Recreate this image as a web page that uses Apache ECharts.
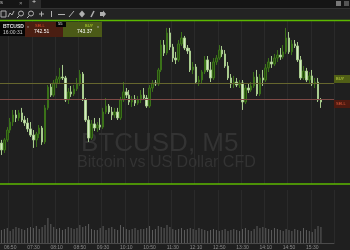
<!DOCTYPE html>
<html><head><meta charset="utf-8">
<script src="https://cdn.jsdelivr.net/npm/echarts@6/dist/echarts.min.js"></script>
<style>html,body{margin:0;padding:0;background:#1f1f1f;}#c{width:350px;height:250px;}</style>
</head><body><div id="c"></div>
<script>
const categories = ['06:35','06:40','06:45','06:50','06:55','07:00','07:05','07:10','07:15','07:20','07:25','07:30','07:35','07:40','07:45','07:50','07:55','08:00','08:05','08:10','08:15','08:20','08:25','08:30','08:35','08:40','08:45','08:50','08:55','09:00','09:05','09:10','09:15','09:20','09:25','09:30','09:35','09:40','09:45','09:50','09:55','10:00','10:05','10:10','10:15','10:20','10:25','10:30','10:35','10:40','10:45','10:50','10:55','11:00','11:05','11:10','11:15','11:20','11:25','11:30','11:35','11:40','11:45','11:50','11:55','12:00','12:05','12:10','12:15','12:20','12:25','12:30','12:35','12:40','12:45','12:50','12:55','13:00','13:05','13:10','13:15','13:20','13:25','13:30','13:35','13:40','13:45','13:50','13:55','14:00','14:05','14:10','14:15','14:20','14:25','14:30','14:35','14:40','14:45','14:50','14:55','15:00','15:05','15:10','15:15','15:20','15:25','15:30','15:35','15:40','15:45','15:50','15:55','16:00','16:05'];
const opens = [740.14,739.77,740.31,740.84,741.27,741.65,741.49,741.76,741.38,741.22,
 740.90,740.57,740.31,740.63,740.95,740.20,742.03,743.15,742.72,743.37,
 743.58,743.69,743.64,742.46,742.89,742.78,743.05,743.32,743.85,742.46,
 741.38,740.41,741.17,740.95,741.11,741.00,741.81,742.13,741.81,741.65,
 741.81,741.49,742.46,742.89,742.72,742.35,742.51,742.29,742.46,742.72,
 742.56,742.13,743.10,743.37,743.32,744.07,745.41,744.98,746.06,745.30,
 744.71,744.61,745.47,745.79,745.25,745.09,744.07,744.23,743.42,743.53,
 743.96,744.61,744.07,743.64,744.50,744.71,745.14,744.93,744.28,743.64,
 743.32,743.42,743.26,743.37,742.35,743.10,742.99,743.21,743.69,742.78,
 743.64,743.53,744.18,744.50,744.39,744.71,744.87,744.77,745.04,745.79,
 745.04,745.47,745.36,744.61,743.64,744.01,743.53,743.75,743.32,743.42,
 742.46];
const closes = [739.77,740.31,740.84,741.27,741.65,741.49,741.76,741.38,741.22,740.90,
 740.57,740.31,740.63,740.95,740.20,742.03,743.15,742.72,743.37,743.58,
 743.69,743.64,742.46,742.89,742.78,743.05,743.32,743.85,742.46,741.38,
 740.41,741.17,740.95,741.11,741.00,741.81,742.13,741.81,741.65,741.81,
 741.49,742.46,742.89,742.72,742.35,742.51,742.29,742.46,742.72,742.56,
 742.13,743.10,743.37,743.32,744.07,745.41,744.98,746.06,745.30,744.71,
 744.61,745.47,745.79,745.25,745.09,744.07,744.23,743.42,743.53,743.96,
 744.61,744.07,743.64,744.50,744.71,745.14,744.93,744.28,743.64,743.32,
 743.42,743.26,743.37,742.35,743.10,742.99,743.21,743.69,742.78,743.64,
 743.53,744.18,744.50,744.39,744.71,744.87,744.77,745.04,745.79,745.04,
 745.47,745.36,744.61,743.64,744.01,743.53,743.75,743.32,743.42,742.46,
 742.35];
const lows = [739.50,739.61,740.20,740.68,741.06,741.27,741.33,741.27,741.06,740.74,
 740.47,739.88,739.93,740.41,740.04,740.09,741.92,742.62,742.62,743.10,
 743.32,743.53,742.35,742.24,742.62,742.67,742.94,743.21,742.40,741.27,
 740.20,740.31,740.79,740.74,740.84,740.90,741.70,741.70,741.38,741.49,
 741.38,741.38,742.35,742.56,742.19,742.08,742.13,742.19,742.29,742.46,
 742.03,742.03,742.89,743.21,743.21,743.96,744.82,744.87,745.14,744.50,
 744.39,744.50,745.36,745.14,744.93,743.96,743.85,743.32,743.21,743.32,
 743.85,743.96,743.42,743.53,744.34,744.61,744.77,744.18,743.53,743.10,
 743.10,743.15,743.10,741.92,742.24,742.83,742.89,743.10,742.67,742.67,
 743.21,743.42,743.96,744.18,744.28,744.50,744.61,744.66,744.93,744.93,
 744.87,745.25,744.50,743.53,743.53,743.42,743.32,743.21,743.10,742.35,
 742.03];
const highs = [740.31,740.41,741.00,741.49,741.92,741.92,741.92,742.03,741.60,741.49,
 741.27,740.84,740.74,741.11,741.06,742.19,743.26,743.32,743.53,743.75,
 744.18,744.34,743.75,743.10,743.21,743.26,743.64,744.07,743.96,742.56,
 741.60,741.38,741.49,741.27,741.49,742.03,742.56,742.24,742.08,742.03,
 742.03,742.62,743.42,743.10,742.99,742.67,742.72,742.67,742.99,743.10,
 742.72,743.26,743.53,743.53,744.18,745.68,745.68,746.33,746.33,745.47,
 745.04,745.68,746.11,745.90,745.41,745.25,744.50,744.39,743.75,744.07,
 744.82,744.82,744.50,744.71,744.87,745.41,745.36,745.14,744.50,743.85,
 743.75,743.64,743.53,743.53,743.26,743.32,743.42,743.96,744.07,743.85,
 744.07,744.39,744.71,744.82,744.93,745.14,745.25,745.41,746.33,746.11,
 745.68,745.68,745.57,744.82,744.28,744.18,743.96,744.07,743.64,743.64,
 742.56];
const volumes = [65,70,75,60,70,80,75,70,65,75,80,
 75,85,70,80,90,125,95,80,70,75,
 65,70,80,75,70,75,90,80,85,95,
 70,65,65,75,85,65,75,80,70,65,
 90,80,70,65,70,75,65,70,70,75,
 85,65,70,85,80,75,90,80,70,65,
 70,75,65,70,75,70,65,75,70,65,
 60,65,70,65,60,65,70,60,65,70,
 65,60,70,75,65,60,70,85,75,80,
 75,70,65,75,70,65,60,70,65,60,
 70,65,60,75,65,60,55,70,85,80];
const tickLabels = ['06:50','07:30','08:10','08:50','09:30','10:10','10:50','11:30','12:10','12:50','13:30','14:10','14:50','15:30'];
const symbolName = 'BTCUSD';
const serverTime = '16:00:31';
const sellPrice = 742.51;
const buyPrice = 743.37;
const spreadText = '55';
const watermark1 = 'BTCUSD, M5';
const watermark2 = 'Bitcoin vs US Dollar CFD';

const chart = echarts.init(document.getElementById('c'));
const candleData = opens.map((o, i) => [o, closes[i], lows[i], highs[i]]);
const showTick = (idx, val) => tickLabels.indexOf(val) >= 0;
const gridLine = {show: true, interval: showTick, lineStyle: {color: '#2a2a2a', width: 1}};

chart.setOption({
  backgroundColor: '#1f1f1f',
  animation: false,
  grid: [
    {left: 0, right: 16, top: 20, height: 164},
    {left: 0, right: 16, top: 190, height: 53}
  ],
  xAxis: [
    {type: 'category', gridIndex: 0, data: categories, axisLine: {show: false}, axisTick: {show: false},
     axisLabel: {show: false}, splitLine: gridLine},
    {type: 'category', gridIndex: 1, data: categories, axisLine: {lineStyle: {color: '#4a4a4a'}}, axisTick: {show: false},
     axisLabel: {interval: showTick, fontSize: 5, color: '#8c8c8c', margin: 2, fontFamily: 'Liberation Sans'},
     splitLine: gridLine}
  ],
  yAxis: [
    {type: 'value', gridIndex: 0, min: 737.94, max: 746.755, axisLine: {show: false}, axisTick: {show: false},
     axisLabel: {show: false}, splitLine: {show: false}},
    {type: 'value', gridIndex: 1, min: 0, max: 265, axisLine: {show: false}, axisTick: {show: false},
     axisLabel: {show: false}, splitLine: {show: false}}
  ],
  series: [
    {type: 'candlestick', xAxisIndex: 0, yAxisIndex: 0, data: candleData, barWidth: 2,
     itemStyle: {color: '#24460f', color0: '#d3ebc2', borderColor: '#3b7219', borderColor0: '#a9cc8e', borderWidth: 1},
     markLine: {symbol: 'none', silent: true, label: {show: false},
       data: [
         {yAxis: buyPrice, lineStyle: {color: '#66662e', width: 1, type: 'solid'}},
         {yAxis: sellPrice, lineStyle: {color: '#7e4a46', width: 1, type: 'solid'}}
       ]}},
    {type: 'bar', xAxisIndex: 1, yAxisIndex: 1, data: volumes, barWidth: 1, itemStyle: {color: '#5e5e5e'}}
  ]
});

const yBuy = chart.convertToPixel({yAxisIndex: 0}, buyPrice);
const ySell = chart.convertToPixel({yAxisIndex: 0}, sellPrice);
const Z = 100;
const G = [];
const txt = (x, y, t, size, color, extra) => G.push({type: 'text', z: Z + 2, style: Object.assign({x: x, y: y, text: t, fontSize: size, fill: color, fontFamily: 'Liberation Sans', textVerticalAlign: 'top'}, extra || {})});
// watermark
G.push({type: 'text', z: 0, style: {x: 81, y: 131, text: watermark1, fontSize: 26, fill: '#333333', fontFamily: 'Liberation Sans', textVerticalAlign: 'alphabetic'}});
G.push({type: 'text', z: 0, style: {x: 77, y: 155, text: watermark2, fontSize: 16, fill: '#333333', fontFamily: 'Liberation Sans', textVerticalAlign: 'alphabetic'}});
// tab bar + toolbar
G.push({type: 'rect', z: Z, shape: {x: 0, y: 0, width: 350, height: 8}, style: {fill: '#151515'}});
G.push({type: 'rect', z: Z, shape: {x: 29, y: 0, width: 12, height: 8}, style: {fill: '#2c2c2c'}});
G.push({type: 'rect', z: Z, shape: {x: 0, y: 8, width: 350, height: 12}, style: {fill: '#232323'}});
G.push({type: 'line', z: Z + 1, shape: {x1: 0, y1: 8.5, x2: 350, y2: 8.5}, style: {stroke: '#333', lineWidth: 1}});
txt(0, -1, 's', 6, '#bbb');
txt(19, 0, '×', 6, '#999');
txt(32, -1, '+', 7, '#ddd');
G.push({type: 'rect', z: Z + 1, shape: {x: 336, y: 1, width: 5, height: 5}, style: {fill: '#777'}});
G.push({type: 'rect', z: Z + 1, shape: {x: 344, y: 1, width: 5, height: 5}, style: {fill: '#555'}});
const ic = '#b0b0b0';
// icons
G.push({type: 'rect', z: Z + 1, shape: {x: 1, y: 11, width: 5, height: 6}, style: {fill: 'none', stroke: ic, lineWidth: 1}});
G.push({type: 'polyline', z: Z + 1, shape: {points: [[8, 17], [10, 13], [12, 15], [14, 11]]}, style: {stroke: ic, fill: 'none', lineWidth: 1}});
G.push({type: 'circle', z: Z + 1, shape: {cx: 21, cy: 13.5, r: 2.5}, style: {fill: 'none', stroke: ic, lineWidth: 1}});
G.push({type: 'line', z: Z + 1, shape: {x1: 19, y1: 16, x2: 17, y2: 18}, style: {stroke: ic, lineWidth: 1}});
G.push({type: 'circle', z: Z + 1, shape: {cx: 31, cy: 13.5, r: 2.5}, style: {fill: 'none', stroke: ic, lineWidth: 1}});
G.push({type: 'line', z: Z + 1, shape: {x1: 29, y1: 16, x2: 27, y2: 18}, style: {stroke: ic, lineWidth: 1}});
G.push({type: 'line', z: Z + 1, shape: {x1: 39, y1: 14, x2: 44, y2: 14}, style: {stroke: ic, lineWidth: 1}});
G.push({type: 'line', z: Z + 1, shape: {x1: 41.5, y1: 11.5, x2: 41.5, y2: 16.5}, style: {stroke: ic, lineWidth: 1}});
G.push({type: 'line', z: Z + 1, shape: {x1: 51.5, y1: 11, x2: 51.5, y2: 17}, style: {stroke: ic, lineWidth: 1}});
G.push({type: 'line', z: Z + 1, shape: {x1: 58, y1: 14.5, x2: 65, y2: 14.5}, style: {stroke: ic, lineWidth: 1}});
G.push({type: 'line', z: Z + 1, shape: {x1: 69, y1: 17, x2: 74, y2: 11}, style: {stroke: ic, lineWidth: 1}});
G.push({type: 'polygon', z: Z + 1, shape: {points: [[82, 10.5], [85, 14], [82, 17.5], [79, 14]]}, style: {fill: ic}});
G.push({type: 'line', z: Z + 1, shape: {x1: 91, y1: 17, x2: 94, y2: 11}, style: {stroke: ic, lineWidth: 1.5}});
G.push({type: 'polygon', z: Z + 1, shape: {points: [[100, 12], [103, 12], [103, 10.5], [106, 14], [103, 17.5], [103, 16], [100, 16]]}, style: {fill: ic}});
// green separators
G.push({type: 'line', z: Z + 1, shape: {x1: 0, y1: 20.5, x2: 350, y2: 20.5}, style: {stroke: '#5cb800', lineWidth: 1.5}});
G.push({type: 'line', z: Z + 1, shape: {x1: 0, y1: 184, x2: 350, y2: 184}, style: {stroke: '#5cb800', lineWidth: 1.5}});
// ticker panel
G.push({type: 'rect', z: Z, shape: {x: 0, y: 22, width: 25, height: 14}, style: {fill: '#050505'}});
txt(3, 24, symbolName, 5, '#e8e8e8', {fontWeight: 'bold'});
txt(3, 30, serverTime, 5, '#d0d0d0');
G.push({type: 'rect', z: Z, shape: {x: 25, y: 22, width: 38, height: 15}, style: {fill: '#4a1e12'}});
txt(27, 25, 'v', 4, '#aaa');
txt(35, 23.5, 'SELL', 4, '#e04a2a');
txt(34, 29.5, sellPrice.toFixed(2), 5, '#ffffff');
G.push({type: 'rect', z: Z, shape: {x: 63, y: 22, width: 39, height: 15}, style: {fill: '#4b5a17'}});
txt(85, 23.5, 'BUY', 4, '#b8dc30');
txt(77, 29.5, buyPrice.toFixed(2), 5, '#ffffff');
txt(97, 25, 'v', 4, '#bbb');
G.push({type: 'rect', z: Z + 1, shape: {x: 56, y: 22, width: 10, height: 5}, style: {fill: '#050505'}});
txt(58, 22, spreadText, 4, '#eee');
// right price labels
G.push({type: 'rect', z: Z, shape: {x: 334, y: yBuy - 8, width: 16, height: 8}, style: {fill: '#505e16'}});
txt(336, yBuy - 6.5, 'BUY', 4, '#c0d840');
G.push({type: 'rect', z: Z, shape: {x: 334, y: ySell + 1, width: 16, height: 8}, style: {fill: '#4e1a10'}});
txt(336, ySell + 2.5, 'SELL', 4, '#e05a3a');
chart.setOption({graphic: G});
</script></body></html>
